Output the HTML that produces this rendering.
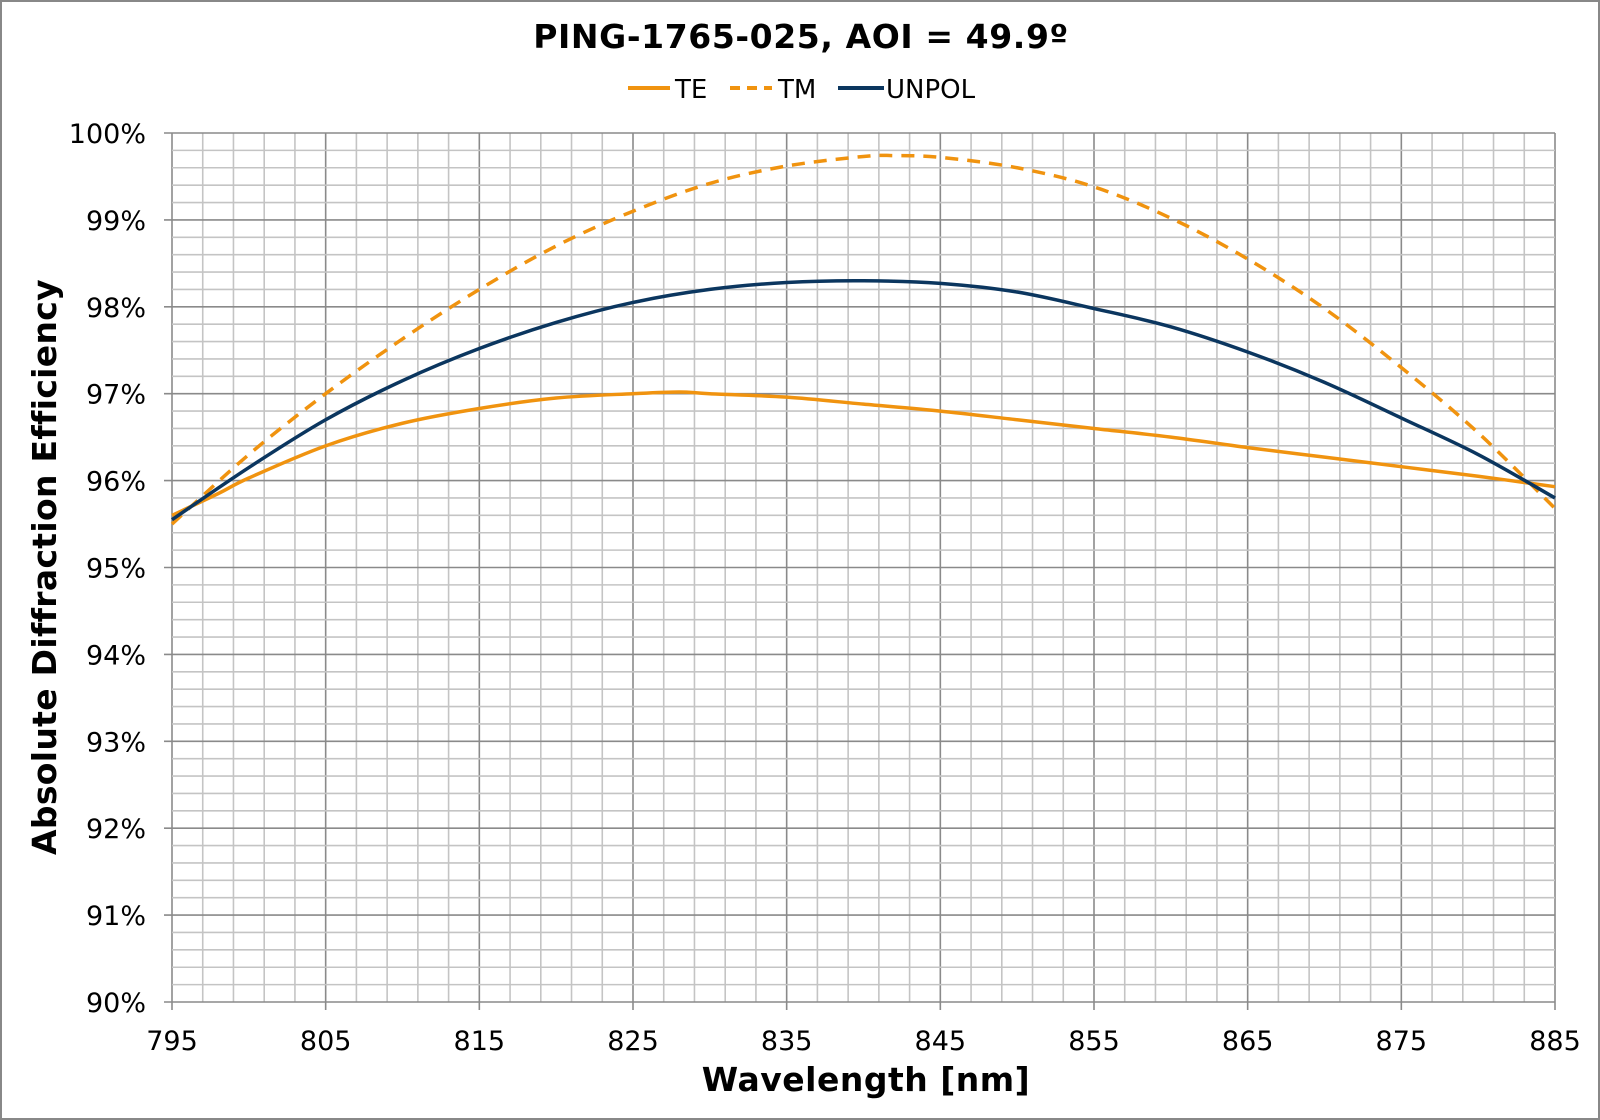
<!DOCTYPE html>
<html><head><meta charset="utf-8"><style>
body{margin:0;background:#fff}
svg{display:block}
text{font-family:"DejaVu Sans","Liberation Sans",sans-serif;fill:#000}
</style></head><body>
<svg id="s" width="1600" height="1120" viewBox="0 0 1600 1120" xmlns="http://www.w3.org/2000/svg">
<rect x="1" y="1" width="1598" height="1118" fill="#fff" stroke="#888" stroke-width="2"/>
<text x="801" y="48" text-anchor="middle" font-size="33" font-weight="bold" letter-spacing="0.6">PING-1765-025, AOI = 49.9º</text>
<line x1="628" y1="88" x2="670" y2="88" stroke="#F0930F" stroke-width="4"/>
<text x="675" y="98" font-size="26">TE</text>
<line x1="730" y1="88" x2="772" y2="88" stroke="#F0930F" stroke-width="4" stroke-dasharray="10,7"/>
<text x="778" y="98" font-size="26">TM</text>
<line x1="838" y1="88" x2="884" y2="88" stroke="#0B365F" stroke-width="4"/>
<text x="886" y="98" font-size="26">UNPOL</text>
<g id="grid"></g>
<g id="curves"></g>
<text x="866" y="1091" text-anchor="middle" font-size="33" font-weight="bold" letter-spacing="0.5">Wavelength [nm]</text>
<text transform="translate(56,567) rotate(-90)" text-anchor="middle" font-size="33" font-weight="bold" letter-spacing="0.3">Absolute Diffraction Efficiency</text>
</svg>
<script>
const L=172,R=1555,T=133,B=1002;
const X=w=>L+(w-795)/90*(R-L), Y=v=>B-(v-90)/10*(B-T);
let g='';
for(let i=0;i<=45;i++){const x=L+i*(R-L)/45;const maj=i%5==0;
 g+=`<line x1="${x}" y1="${T}" x2="${x}" y2="${B+(maj?8:0)}" stroke="${maj?'#8a8a8a':'#c4c4c4'}" stroke-width="1.6"/>`;}
for(let i=0;i<=50;i++){const y=T+i*(B-T)/50;const maj=i%5==0;
 g+=`<line x1="${L-(maj?8:0)}" y1="${y}" x2="${R}" y2="${y}" stroke="${maj?'#8a8a8a':'#c4c4c4'}" stroke-width="1.6"/>`;}
for(let v=90;v<=100;v++){g+=`<text x="146" y="${Y(v)+10}" text-anchor="end" font-size="27">${v}%</text>`;}
for(let w=795;w<=885;w+=10){g+=`<text x="${X(w)}" y="1050" text-anchor="middle" font-size="27">${w}</text>`;}
document.getElementById('grid').innerHTML=g;
const TE=[[795,95.6],[798,95.85],[800,96.03],[805,96.4],[810,96.66],[815,96.83],[820,96.95],[825,97.0],[828,97.02],[830,97.0],[835,96.96],[840,96.88],[845,96.8],[850,96.7],[855,96.6],[860,96.5],[865,96.38],[870,96.27],[875,96.16],[880,96.05],[885,95.93]];
const TM=[[795,95.5],[800,96.3],[805,97.0],[810,97.63],[815,98.2],[820,98.7],[825,99.1],[830,99.42],[835,99.62],[840,99.73],[842,99.74],[845,99.72],[850,99.6],[855,99.38],[860,99.02],[865,98.55],[870,97.98],[875,97.3],[880,96.55],[885,95.68]];
const UN=[[795,95.55],[800,96.15],[805,96.7],[810,97.15],[815,97.52],[820,97.82],[825,98.05],[830,98.2],[835,98.28],[840,98.3],[845,98.27],[850,98.17],[855,97.98],[860,97.77],[865,97.48],[870,97.13],[875,96.72],[880,96.3],[885,95.8]];
function path(d){const p=d.map(a=>[X(a[0]),Y(a[1])]);let s=`M${p[0][0]},${p[0][1]}`;
 for(let i=0;i<p.length-1;i++){const p0=p[i-1]||p[i],p1=p[i],p2=p[i+1],p3=p[i+2]||p2;
  const c1=[p1[0]+(p2[0]-p0[0])/6,p1[1]+(p2[1]-p0[1])/6],c2=[p2[0]-(p3[0]-p1[0])/6,p2[1]-(p3[1]-p1[1])/6];
  s+=`C${c1[0]},${c1[1]} ${c2[0]},${c2[1]} ${p2[0]},${p2[1]}`;}return s;}
document.getElementById('curves').innerHTML=
`<path d="${path(TE)}" fill="none" stroke="#F0930F" stroke-width="3.5"/>`+
`<path d="${path(TM)}" fill="none" stroke="#F0930F" stroke-width="3.5" stroke-dasharray="13,9"/>`+
`<path d="${path(UN)}" fill="none" stroke="#0B365F" stroke-width="3.5"/>`;
</script>
</body></html>
